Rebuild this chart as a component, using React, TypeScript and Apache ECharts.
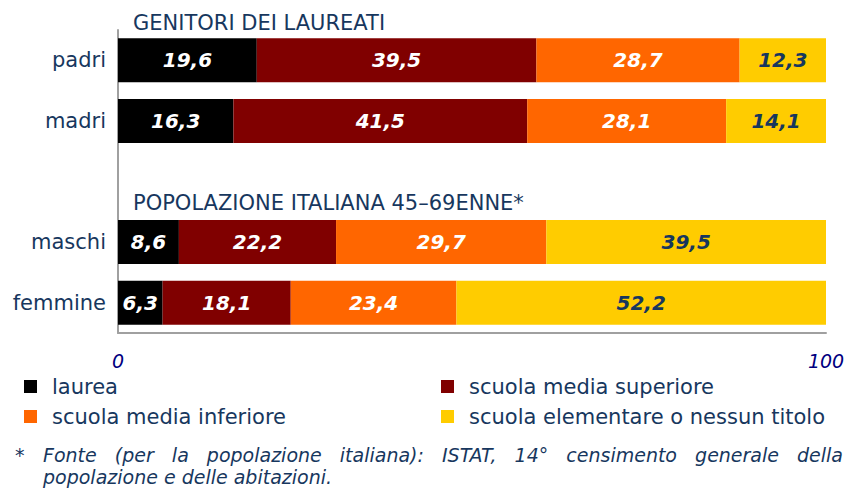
import React, { useEffect, useRef } from "react";
import * as echarts from "echarts";

const categories = ["padri", "madri", "", "maschi", "femmine"];
const laurea = [19.6, 16.3, null, 8.6, 6.3];
const mediaSuperiore = [39.5, 41.5, null, 22.2, 18.1];
const mediaInferiore = [28.7, 28.1, null, 29.7, 23.4];
const elementare = [12.3, 14.1, null, 39.5, 52.2];
const seriesNames = [
  "laurea",
  "scuola media superiore",
  "scuola media inferiore",
  "scuola elementare o nessun titolo",
];
const groupTitles = ["GENITORI DEI LAUREATI", "POPOLAZIONE ITALIANA 45\u201369ENNE*"];
const footLine1 = "Fonte (per la popolazione italiana): ISTAT, 14° censimento generale della";
const footLine2 = "popolazione e delle abitazioni.";

const FONT = '"DejaVu Sans", Verdana, sans-serif';
const BLUE = "#17375E";

function justifiedWords(text: string, x0: number, x1: number, y: number, font: string, size: number) {
  const ctx = document.createElement("canvas").getContext("2d")!;
  ctx.font = `italic ${size}px "DejaVu Sans"`;
  const words = text.split(" ");
  const widths = words.map((w) => ctx.measureText(w).width);
  const total = widths.reduce((a, b) => a + b, 0);
  const gap = (x1 - x0 - total) / (words.length - 1);
  let x = x0;
  return words.map((w, i) => {
    const el = {
      type: "text",
      x,
      y,
      style: { text: w, fontFamily: font, fontSize: size, fontStyle: "italic", fill: BLUE, verticalAlign: "middle" },
    };
    x += widths[i] + gap;
    return el;
  });
}

export default function App() {
  const ref = useRef<HTMLDivElement>(null);
  useEffect(() => {
    const chart = echarts.init(ref.current!, null, { renderer: "svg" });
    const fmt = (p: any) => (p.value == null ? "" : Number(p.value).toFixed(1).replace(".", ","));
    const colors = ["#000000", "#800000", "#FF6600", "#FFCC00"];
    const datas = [laurea, mediaSuperiore, mediaInferiore, elementare];
    const series = datas.map((d, i) => ({
      name: seriesNames[i],
      type: "bar",
      stack: "tot",
      barWidth: 44,
      data: d,
      itemStyle: { color: colors[i] },
      label: {
        show: true,
        position: "inside",
        formatter: fmt,
        fontFamily: FONT,
        fontSize: 20,
        fontWeight: "bold",
        fontStyle: "italic",
        color: i === 3 ? BLUE : "#FFFFFF",
      },
    }));
    const legendPos = [
      { left: 24, top: 376 },
      { left: 441, top: 376 },
      { left: 24, top: 406 },
      { left: 441, top: 406 },
    ];
    const legends = seriesNames.map((n, i) => ({
      data: [n],
      left: legendPos[i].left,
      top: legendPos[i].top,
      padding: 0,
      icon: "rect",
      itemWidth: 13,
      itemHeight: 13,
      selectedMode: false,
      textStyle: { fontFamily: FONT, fontSize: 21, color: BLUE, lineHeight: 21, padding: [0, 0, 0, 10] },
    }));
    const graphics: any[] = [
      {
        type: "text",
        x: 133,
        y: 23,
        style: { text: groupTitles[0], fontFamily: FONT, fontSize: 21, fill: BLUE, verticalAlign: "middle" },
      },
      {
        type: "text",
        x: 133,
        y: 203,
        style: { text: groupTitles[1], fontFamily: FONT, fontSize: 21, fill: BLUE, verticalAlign: "middle" },
      },
      {
        type: "text",
        x: 15,
        y: 455,
        style: { text: "*", fontFamily: FONT, fontSize: 19, fill: BLUE, verticalAlign: "middle" },
      },
      ...justifiedWords(footLine1, 43, 843, 455, FONT, 19),
      {
        type: "text",
        x: 43,
        y: 477,
        style: { text: footLine2, fontFamily: FONT, fontSize: 19, fontStyle: "italic", fill: BLUE, verticalAlign: "middle" },
      },
    ];
    chart.setOption({
      animation: false,
      grid: { left: 118, right: 22, top: 30, bottom: 157, containLabel: false },
      xAxis: {
        type: "value",
        min: 0,
        max: 100,
        interval: 100,
        axisLine: { show: true, lineStyle: { color: "#A0A0A0", width: 2 } },
        axisTick: { show: false },
        splitLine: { show: false },
        axisLabel: { fontFamily: FONT, fontSize: 19, fontStyle: "italic", color: "#000080", margin: 18 },
      },
      yAxis: {
        type: "category",
        inverse: true,
        data: categories,
        axisLine: { show: true, lineStyle: { color: "#A0A0A0", width: 2 } },
        axisTick: { show: false },
        axisLabel: { fontFamily: FONT, fontSize: 21, color: BLUE, margin: 12 },
      },
      legend: legends,
      series,
      graphic: graphics,
    });
    return () => chart.dispose();
  }, []);
  return <div ref={ref} style={{ width: 848, height: 490, position: "absolute", left: 0, top: 0 }} />;
}
